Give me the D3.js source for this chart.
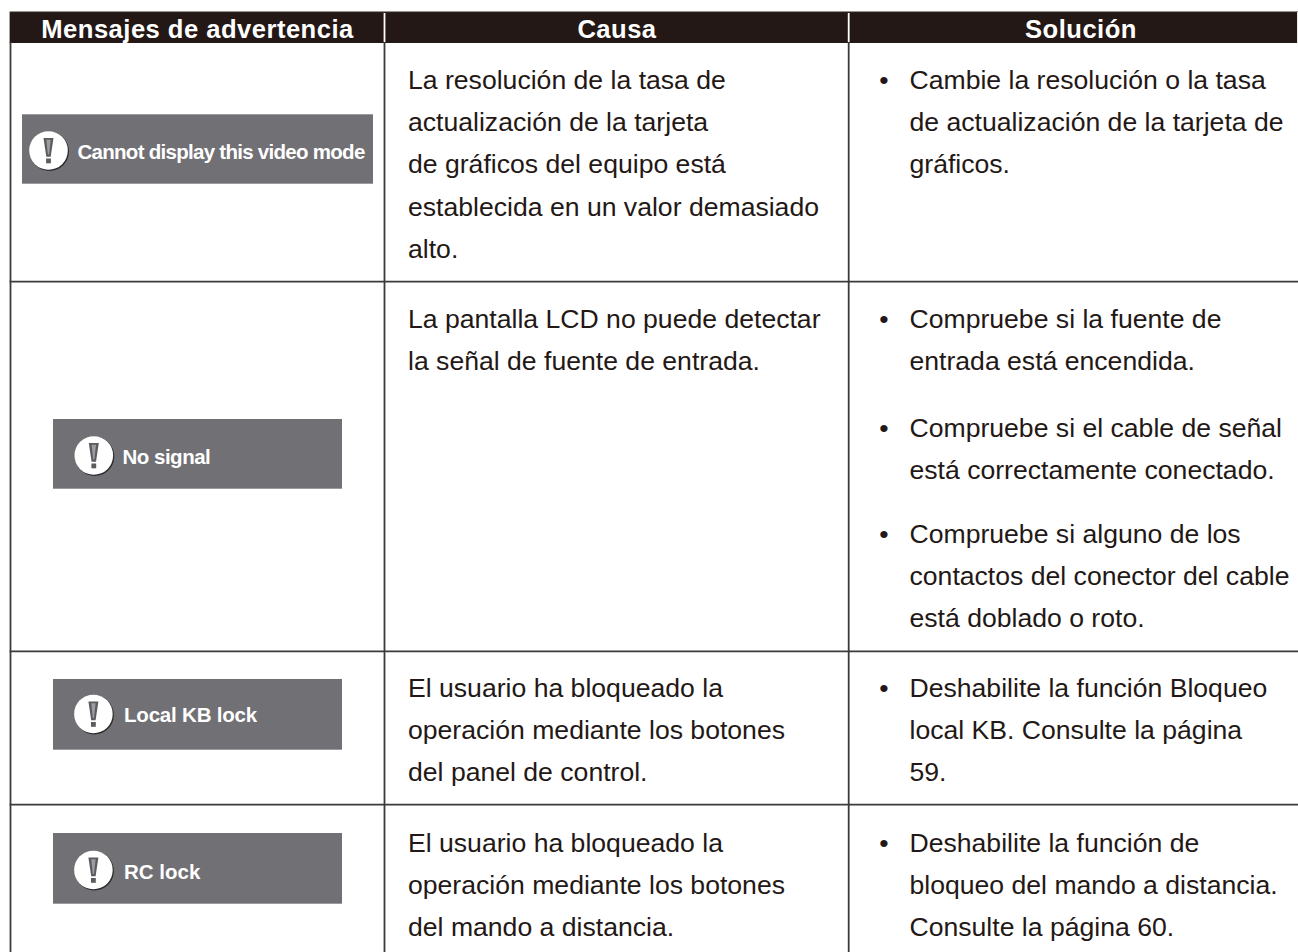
<!DOCTYPE html>
<html><head><meta charset="utf-8">
<script src="https://cdn.jsdelivr.net/npm/d3@7/dist/d3.min.js"></script>
<style>html,body{margin:0;padding:0;background:#fff}svg{display:block}</style>
</head><body>
<script>
const headers = ["Mensajes de advertencia", "Causa", "Solución"];
const messages = ["Cannot display this video mode", "No signal", "Local KB lock", "RC lock"];
const causes = [
  ["La resolución de la tasa de", "actualización de la tarjeta", "de gráficos del equipo está", "establecida en un valor demasiado", "alto."],
  ["La pantalla LCD no puede detectar", "la señal de fuente de entrada."],
  ["El usuario ha bloqueado la", "operación mediante los botones", "del panel de control."],
  ["El usuario ha bloqueado la", "operación mediante los botones", "del mando a distancia."]
];
const solutions = [
  [["Cambie la resolución o la tasa", "de actualización de la tarjeta de", "gráficos."]],
  [["Compruebe si la fuente de", "entrada está encendida."], ["Compruebe si el cable de señal", "está correctamente conectado."], ["Compruebe si alguno de los", "contactos del conector del cable", "está doblado o roto."]],
  [["Deshabilite la función Bloqueo", "local KB. Consulte la página", "59."]],
  [["Deshabilite la función de", "bloqueo del mando a distancia.", "Consulte la página 60."]]
];

// layout
const colEdges = [10.5, 384.5, 848.7, 1298];
const rowLines = [281.7, 651.3, 804.7];
const msgBoxes = [[22, 373, 114.3, 183.7], [53, 342, 419, 488.7], [53, 342, 679, 749.7], [53, 342, 833, 903.7]];
const iconCentres = [[48.5, 150.5], [93.8, 455.5], [93.4, 714], [93.4, 870]];
const msgTextPos = [[77.5, 158.6], [122.5, 463.6], [124, 722.3], [124, 878.5]];
const msgSpacing = [-0.72, -0.5, -0.2, 0];
const causeTops = [89, 328, 696.5, 852];
const solTops = [[89], [328, 436.7, 543], [696.5], [852]];
const lh = 42.2;

const dark = "#231815", grey = "#717075", rule = "#3e3a39";
const font = "'Liberation Sans', Arial, sans-serif";
const svg = d3.select("body").append("svg").attr("width", 1298).attr("height", 952);
svg.append("rect").attr("width", 1298).attr("height", 952).attr("fill", "#fff");

// header
svg.append("rect").attr("x", colEdges[0] - 0.9).attr("y", 12).attr("width", 1298 - colEdges[0]).attr("height", 31).attr("fill", dark);
svg.append("line").attr("x1", colEdges[0] - 0.9).attr("x2", 1298).attr("y1", 11.6).attr("y2", 11.6).attr("stroke", "#8a8583").attr("stroke-width", 1);

// grid
svg.selectAll(".rl").data(rowLines).join("line").attr("class", "rl")
  .attr("x1", colEdges[0] - 0.9).attr("x2", 1298).attr("y1", d => d).attr("y2", d => d)
  .attr("stroke", rule).attr("stroke-width", 1.8);
svg.selectAll(".cl").data(colEdges.slice(0, 3)).join("line").attr("class", "cl")
  .attr("x1", d => d).attr("x2", d => d).attr("y1", 42).attr("y2", 952)
  .attr("stroke", rule).attr("stroke-width", 1.8);
svg.selectAll(".hdiv").data(colEdges.slice(1, 3)).join("line").attr("class", "hdiv")
  .attr("x1", d => d).attr("x2", d => d).attr("y1", 13).attr("y2", 42)
  .attr("stroke", "#fff").attr("stroke-width", 1.8);

const headCentres = [197.5, 617, 1081];
svg.selectAll(".hd").data(headers).join("text").attr("class", "hd")
  .attr("x", (d, i) => headCentres[i]).attr("y", 38.3).attr("text-anchor", "middle").attr("fill", "#fff")
  .attr("font-family", font).attr("font-weight", 700).attr("font-size", 25.6).attr("letter-spacing", 0.47).text(d => d);

// message boxes
const g = svg.selectAll(".m").data(messages).join("g").attr("class", "m");
g.append("rect").attr("x", (d, i) => msgBoxes[i][0]).attr("y", (d, i) => msgBoxes[i][2])
  .attr("width", (d, i) => msgBoxes[i][1] - msgBoxes[i][0]).attr("height", (d, i) => msgBoxes[i][3] - msgBoxes[i][2]).attr("fill", grey);
const ic = g.append("g").attr("transform", (d, i) => `translate(${iconCentres[i][0]},${iconCentres[i][1]})`);
ic.append("circle").attr("cx", 0.9).attr("cy", 0.9).attr("r", 19.6).attr("fill", "#2e2b2d");
ic.append("circle").attr("r", 19.3).attr("fill", "#fff");
ic.append("path").attr("d", "M-5,-12.5L5,-12.5L2.2,6.3L-2.2,6.3Z").attr("fill", "#5c5b5f");
ic.append("path").attr("d", "M-2.2,-10.8L2.2,-10.8L0.6,4L-0.6,4Z").attr("fill", "#9d9ca0");
ic.append("rect").attr("x", -2.4).attr("y", 8).attr("width", 4.8).attr("height", 4.8).attr("fill", "#5c5b5f");
g.append("text").attr("x", (d, i) => msgTextPos[i][0]).attr("y", (d, i) => msgTextPos[i][1]).attr("fill", "#fff")
  .attr("font-family", font).attr("font-weight", 700).attr("font-size", 20.5)
  .attr("letter-spacing", (d, i) => msgSpacing[i]).text(d => d);

// body text
const style = s => s.attr("font-family", font).attr("font-size", 26.6).attr("fill", dark);
causes.forEach((lines, r) => {
  lines.forEach((l, i) => {
    svg.append("text").attr("x", 408).attr("y", causeTops[r] + i * lh).call(style).text(l);
  });
});
solutions.forEach((items, r) => {
  items.forEach((lines, k) => {
    svg.append("text").attr("x", 884).attr("y", solTops[r][k]).attr("text-anchor", "middle").call(style).text("•");
    lines.forEach((l, i) => {
      svg.append("text").attr("x", 909.5).attr("y", solTops[r][k] + i * lh).call(style).text(l);
    });
  });
});
</script>
</body></html>
